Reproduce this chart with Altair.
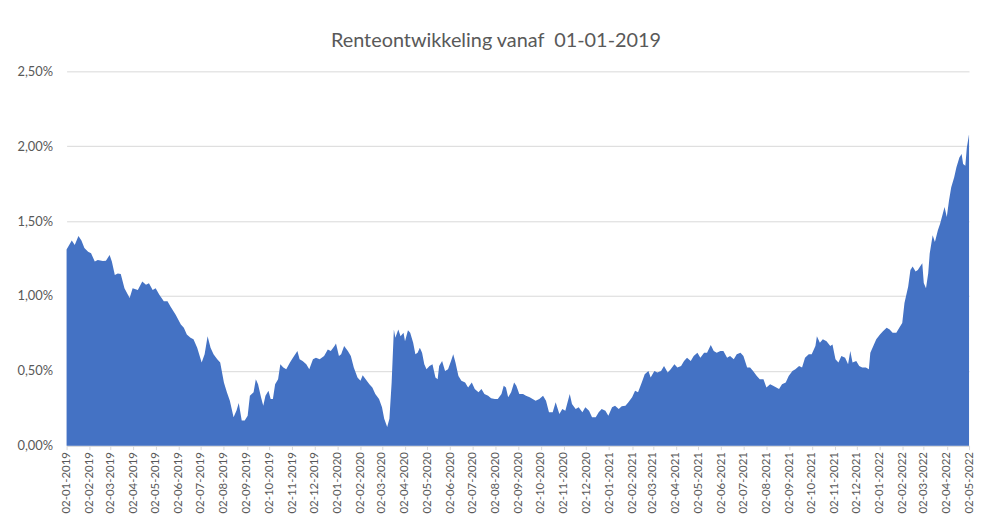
import altair as alt
import pandas as pd

# ---- data ----
start_date = "2019-01-02"

day_offsets = [
    0, 7, 11, 16, 20, 24, 29, 33, 38, 42, 49, 53, 58, 61, 65, 69, 73, 78, 85, 89,
    96, 102, 107, 111, 116, 120, 125, 131, 136, 140, 147, 154, 158, 162, 167, 171, 176, 182, 186, 190,
    194, 198, 203, 207, 212, 216, 220, 225, 229, 232, 236, 240, 244, 247, 252, 255, 258, 262, 265, 268,
    272, 275, 278, 281, 285, 288, 292, 296, 301, 305, 311, 314, 318, 323, 327, 332, 336, 341, 347, 352,
    356, 361, 363, 367, 370, 374, 379, 383, 387, 392, 396, 399, 403, 408, 412, 416, 421, 425, 428, 432,
    435, 438, 441, 443, 447, 450, 454, 456, 460, 463, 467, 470, 473, 476, 479, 482, 485, 489, 493, 497,
    500, 502, 506, 510, 514, 518, 521, 524, 528, 532, 537, 541, 546, 550, 555, 559, 563, 568, 572, 577,
    581, 586, 589, 592, 595, 599, 603, 606, 610, 615, 619, 624, 628, 632, 637, 642, 646, 650, 655, 659,
    664, 668, 672, 678, 681, 686, 690, 695, 699, 704, 708, 713, 717, 721, 726, 730, 735, 739, 744, 748,
    753, 757, 762, 766, 770, 775, 779, 784, 787, 792, 796, 801, 805, 810, 814, 819, 823, 828, 832, 836,
    841, 845, 850, 854, 859, 863, 868, 872, 876, 881, 885, 890, 894, 899, 903, 908, 912, 917, 921, 925,
    930, 934, 939, 943, 948, 952, 960, 964, 969, 973, 978, 982, 987, 991, 995, 1000, 1004, 1009, 1011, 1015,
    1019, 1024, 1029, 1032, 1036, 1040, 1044, 1049, 1053, 1056, 1059, 1064, 1068, 1072, 1077, 1081, 1083, 1087, 1091, 1096,
    1100, 1105, 1109, 1113, 1118, 1122, 1126, 1129, 1134, 1137, 1140, 1144, 1147, 1150, 1153, 1155, 1158, 1161, 1163, 1167,
    1170, 1174, 1177, 1180, 1183, 1186, 1189, 1192, 1196, 1199, 1203, 1206, 1208, 1211, 1213, 1216,
]

rate_pct = [
    1.31, 1.37, 1.34, 1.40, 1.37, 1.32, 1.295, 1.285, 1.23, 1.24, 1.233, 1.235, 1.273, 1.23, 1.14, 1.15, 1.147, 1.052, 0.986, 1.052,
    1.04, 1.096, 1.074, 1.085, 1.04, 1.052, 1.008, 0.964, 0.964, 0.93, 0.875, 0.81, 0.787, 0.743, 0.72, 0.71, 0.654, 0.555, 0.61, 0.731,
    0.654, 0.61, 0.577, 0.555, 0.422, 0.356, 0.30, 0.19, 0.235, 0.285, 0.168, 0.168, 0.20, 0.334, 0.356, 0.444, 0.411, 0.323, 0.267, 0.334,
    0.367, 0.312, 0.312, 0.411, 0.444, 0.544, 0.522, 0.51, 0.555, 0.588, 0.632, 0.577, 0.566, 0.544, 0.51, 0.577, 0.588, 0.577, 0.599, 0.643,
    0.632, 0.665, 0.683, 0.599, 0.61, 0.665, 0.632, 0.599, 0.522, 0.455, 0.433, 0.471, 0.444, 0.411, 0.389, 0.345, 0.312, 0.257, 0.179, 0.124,
    0.179, 0.422, 0.776, 0.72, 0.776, 0.731, 0.754, 0.698, 0.771, 0.754, 0.688, 0.61, 0.621, 0.654, 0.621, 0.544, 0.51, 0.532, 0.544, 0.455,
    0.444, 0.532, 0.566, 0.499, 0.51, 0.566, 0.61, 0.555, 0.466, 0.433, 0.422, 0.389, 0.422, 0.378, 0.356, 0.378, 0.345, 0.334, 0.316, 0.312,
    0.312, 0.345, 0.40, 0.389, 0.323, 0.356, 0.422, 0.40, 0.345, 0.345, 0.334, 0.323, 0.312, 0.30, 0.312, 0.334, 0.30, 0.223, 0.223, 0.29,
    0.212, 0.245, 0.234, 0.345, 0.279, 0.245, 0.257, 0.223, 0.257, 0.234, 0.19, 0.19, 0.223, 0.245, 0.234, 0.20, 0.257, 0.267, 0.245, 0.263,
    0.267, 0.29, 0.323, 0.367, 0.356, 0.422, 0.477, 0.499, 0.455, 0.499, 0.488, 0.499, 0.532, 0.488, 0.51, 0.544, 0.522, 0.532, 0.566, 0.588,
    0.566, 0.599, 0.621, 0.588, 0.621, 0.621, 0.672, 0.632, 0.621, 0.632, 0.632, 0.588, 0.599, 0.577, 0.61, 0.621, 0.599, 0.522, 0.522, 0.499,
    0.466, 0.444, 0.444, 0.389, 0.411, 0.40, 0.378, 0.411, 0.422, 0.466, 0.499, 0.51, 0.532, 0.522, 0.588, 0.61, 0.61, 0.665, 0.731, 0.688,
    0.71, 0.698, 0.665, 0.676, 0.577, 0.555, 0.599, 0.588, 0.544, 0.632, 0.555, 0.566, 0.532, 0.522, 0.522, 0.51, 0.621, 0.665, 0.71, 0.743,
    0.765, 0.787, 0.776, 0.754, 0.754, 0.787, 0.82, 0.953, 1.063, 1.174, 1.196, 1.163, 1.174, 1.196, 1.218, 1.086, 1.052, 1.152, 1.284, 1.406,
    1.361, 1.439, 1.483, 1.538, 1.594, 1.527, 1.638, 1.726, 1.793, 1.859, 1.925, 1.948, 1.881, 1.87, 1.99, 2.08,
]

tick_years = [2019] * 12 + [2020] * 12 + [2021] * 12 + [2022] * 5
tick_months = list(range(1, 13)) * 3 + [1, 2, 3, 4, 5]
y_ticks = [0, 0.5, 1.0, 1.5, 2.0, 2.5]

title_text = "Renteontwikkeling vanaf\u00a0 01-01-2019"

# ---- build ----
dates = pd.to_datetime(start_date) + pd.to_timedelta(day_offsets, unit="D")
df = pd.DataFrame({"datum": dates, "rente": rate_pct})

tick_values = [alt.DateTime(year=y, month=m, date=2) for y, m in zip(tick_years, tick_months)]

FONT = "Lato"
GRAY = "#595959"
GRID = "#d9d9d9"

chart = (
    alt.Chart(df)
    .mark_area(color="#4472C4", interpolate="linear", opacity=1)
    .encode(
        x=alt.X(
            "datum:T",
            title=None,
            scale=alt.Scale(
                domain=[alt.DateTime(year=2019, month=1, date=2), alt.DateTime(year=2022, month=5, date=2)],
                nice=False,
            ),
            axis=alt.Axis(
                values=tick_values,
                format="%d-%m-%Y",
                labelAngle=270,
                labelFontSize=11.5,
                labelColor=GRAY,
                labelFont=FONT,
                labelPadding=2,
                tickSize=4,
                tickColor=GRID,
                domainColor=GRID,
                grid=False,
                labelOverlap=False,
                labelBound=False,
                labelFlush=False,
            ),
        ),
        y=alt.Y(
            "rente:Q",
            title=None,
            scale=alt.Scale(domain=[0, 2.5], nice=False),
            axis=alt.Axis(
                values=y_ticks,
                labelExpr="replace(format(datum.value, '.2f'), '.', ',') + '%'",
                ticks=False,
                tickSize=0,
                domain=False,
                gridColor=GRID,
                labelFontSize=13,
                labelColor=GRAY,
                labelFont=FONT,
                labelPadding=14,
            ),
        ),
    )
    .properties(
        width=909,
        height=377,
        title=alt.TitleParams(
            title_text,
            fontSize=20,
            font=FONT,
            fontWeight="normal",
            color=GRAY,
            offset=15,
            dx=-22,
        ),
        autosize=alt.AutoSizeParams(type="none"),
        padding={"left": 59, "top": 62, "right": 6, "bottom": 68},
    )
    .configure_view(stroke=None)
)

chart.save("out.html", embed_options={"renderer": "svg", "actions": False})
